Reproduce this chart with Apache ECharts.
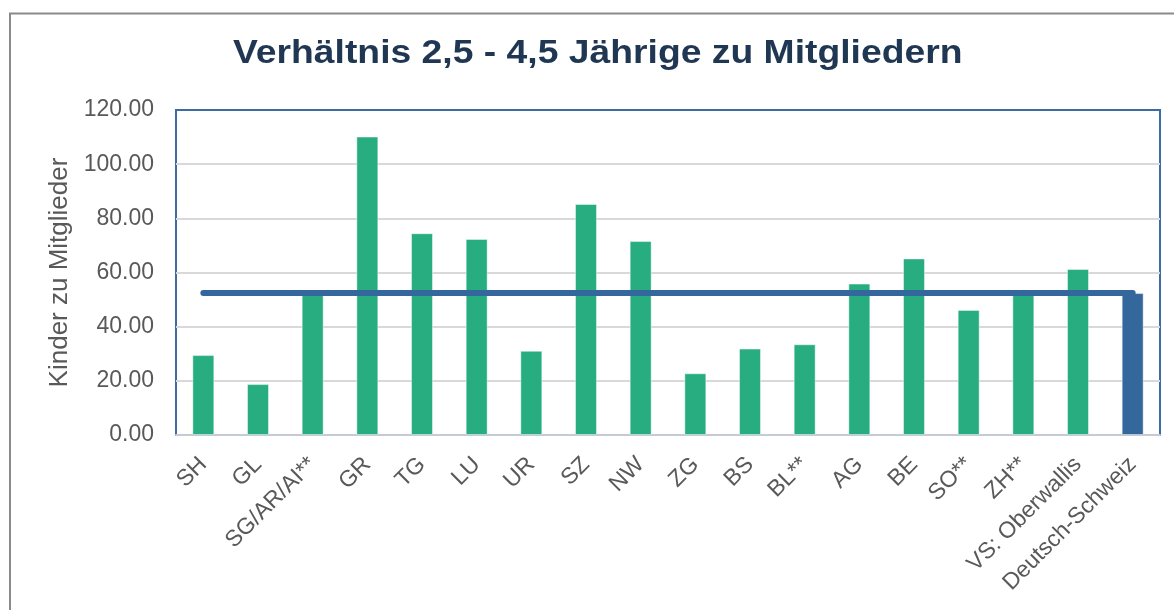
<!DOCTYPE html>
<html>
<head>
<meta charset="utf-8">
<script src="https://cdn.jsdelivr.net/npm/echarts@6/dist/echarts.min.js"></script>
<style>
  html, body { margin: 0; padding: 0; background: #fff; }
  #chart { width: 1174px; height: 610px; }
</style>
</head>
<body>
<div id="chart"></div>
<script>
// Kantone / Regionen
const categories = [
  "SH", "GL", "SG/AR/AI**", "GR", "TG", "LU", "UR", "SZ", "NW",
  "ZG", "BS", "BL**", "AG", "BE", "SO**", "ZH**", "VS: Oberwallis", "Deutsch-Schweiz"
];
// Kinder (2,5 - 4,5 J.) zu Mitglieder
const ratios = [
  29.5, 18.8, 52.0, 110.2, 74.5, 72.4, 31.1, 85.3, 71.6,
  22.8, 31.9, 33.5, 55.9, 65.2, 46.2, 52.0, 61.3, 52.4
];
// Durchschnitt Deutsch-Schweiz
const average = [
  52.4, 52.4, 52.4, 52.4, 52.4, 52.4, 52.4, 52.4, 52.4,
  52.4, 52.4, 52.4, 52.4, 52.4, 52.4, 52.4, 52.4, 52.4
];
const yTicks = { min: 0, max: 120, interval: 20 };

const GREEN = "#28ad80";
const BLUE = "#34679b";
const FONT = "Liberation Sans, Arial, sans-serif";

const chart = echarts.init(document.getElementById("chart"));

chart.setOption({
  animation: false,
  textStyle: { fontFamily: FONT },
  graphic: [
    {
      type: "rect",
      silent: true,
      shape: { x: 10, y: 13.5, width: 1200, height: 700 },
      style: { fill: "none", stroke: "#8a8a8a", lineWidth: 2 }
    },
    {
      // title, slightly wider than plain Arial bold like the original
      type: "text",
      silent: true,
      x: 233,
      y: 54,
      scaleX: 1.13,
      style: {
        text: "Verhältnis 2,5 - 4,5 Jährige zu Mitgliedern",
        font: "bold 33px " + FONT,
        fill: "#1f3752",
        verticalAlign: "middle",
        align: "left"
      }
    }
  ],
  grid: {
    left: 176,
    right: 14,
    top: 110,
    bottom: 175,
    show: true,
    borderColor: "#3d6ca3",
    borderWidth: 2
  },
  xAxis: {
    type: "category",
    data: categories,
    axisTick: { show: false },
    axisLine: { lineStyle: { color: "#c5cad3", width: 2 } },
    axisLabel: {
      interval: 0,
      rotate: 45,
      margin: 26,
      color: "#595959",
      fontSize: 23,
      fontFamily: FONT
    }
  },
  yAxis: {
    type: "value",
    min: yTicks.min,
    max: yTicks.max,
    interval: yTicks.interval,
    name: "Kinder zu Mitglieder",
    nameLocation: "middle",
    nameGap: 102,
    nameTextStyle: { color: "#595959", fontSize: 26, fontFamily: FONT },
    axisLine: { show: false },
    axisTick: { show: false },
    splitLine: {
      showMinLine: false,
      showMaxLine: false,
      lineStyle: { color: "#d9d9d9", width: 2 }
    },
    axisLabel: {
      margin: 22,
      color: "#595959",
      fontSize: 23,
      fontFamily: FONT,
      formatter: (v) => v.toFixed(2)
    }
  },
  series: [
    {
      type: "bar",
      data: ratios.map((v, i) => ({
        value: v,
        itemStyle: { color: i === ratios.length - 1 ? BLUE : GREEN }
      })),
      barWidth: 22,
      itemStyle: { borderColor: "rgba(255,255,255,0.45)", borderWidth: 1 },
      z: 2
    },
    {
      type: "line",
      data: average,
      symbol: "none",
      lineStyle: { color: BLUE, width: 6, cap: "round" },
      z: 3
    }
  ]
});
</script>
</body>
</html>
